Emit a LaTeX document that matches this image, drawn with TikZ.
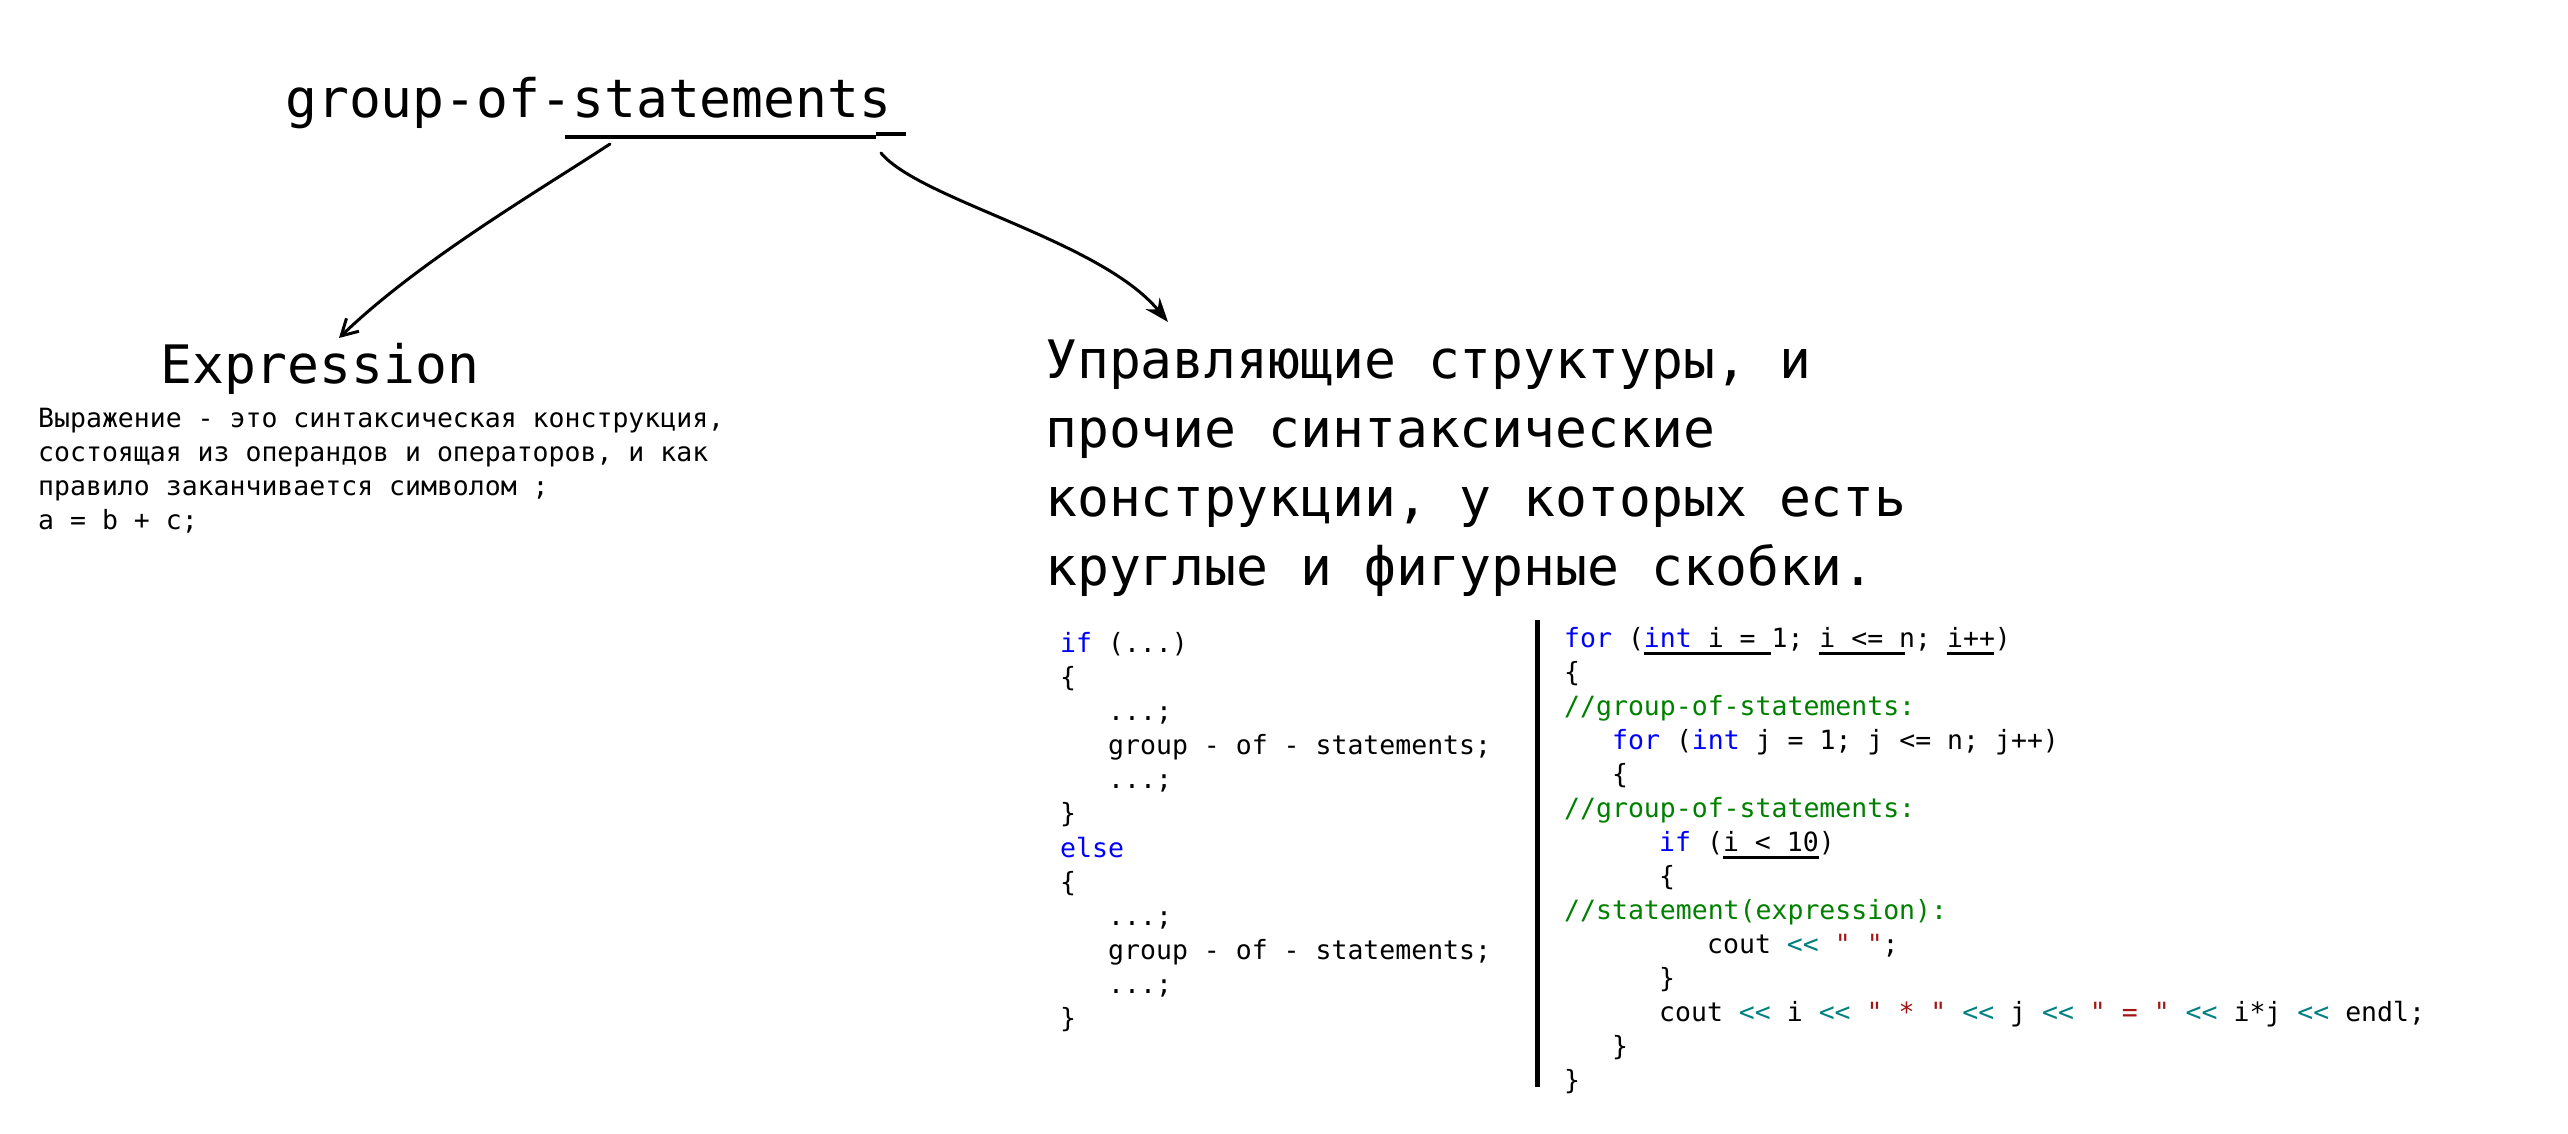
\documentclass[tikz,border=0pt]{standalone}
\usepackage{fontspec}
\setmonofont{DejaVu Sans Mono}
\usetikzlibrary{arrows.meta,positioning}

\definecolor{kwblue}{RGB}{0,0,255}
\definecolor{cmtgreen}{RGB}{0,128,0}
\definecolor{optteal}{RGB}{0,128,128}
\definecolor{strred}{RGB}{163,21,21}

\newcommand{\kw}[1]{\textcolor{kwblue}{#1}}
\newcommand{\cmt}[1]{\textcolor{cmtgreen}{#1}}
\newcommand{\shl}{\textcolor{optteal}{<<}}
\newcommand{\strlit}[1]{\textcolor{strred}{#1}}

\begin{document}
\begin{tikzpicture}[x=1pt,y=-1pt,
  big/.style={font=\ttfamily\fontsize{53}{69}\selectfont,inner sep=0pt,anchor=base west},
  small/.style={font=\ttfamily\fontsize{26.5}{34}\selectfont,inner sep=0pt,anchor=base west},
  arr/.style={line width=3pt,line cap=round},
  uline/.style={line width=3pt}
]
\useasboundingbox (0,0) rectangle (2568,1134);

% headings
\node[big] (gos) at (285,118) {group-of-statements};
\node[big] (expr) at (160,383) {Expression};
\node[big] (ctl1) at (1045,378) {Управляющие структуры, и};
\node[big] (ctl2) at (1045,447) {прочие синтаксические};
\node[big] (ctl3) at (1045,516) {конструкции, у которых есть};
\node[big] (ctl4) at (1045,585) {круглые и фигурные скобки.};

% definition
\node[small] (def1) at (38,427) {Выражение - это синтаксическая конструкция,};
\node[small] (def2) at (38,461) {состоящая из операндов и операторов, и как};
\node[small] (def3) at (38,495) {правило заканчивается символом ;};
\node[small] (def4) at (38,529) {a = b + c;};

% if / else
\node[small] (if1)  at (1060,652)  {\kw{if} (...)};
\node[small] (if2)  at (1060,686)  {\{};
\node[small] (if3)  at (1108,720)  {...;};
\node[small] (if4)  at (1108,754)  {group - of - statements;};
\node[small] (if5)  at (1108,788)  {...;};
\node[small] (if6)  at (1060,822)  {\}};
\node[small] (if7)  at (1060,857)  {\kw{else}};
\node[small] (if8)  at (1060,891)  {\{};
\node[small] (if9)  at (1108,925)  {...;};
\node[small] (if10) at (1108,959)  {group - of - statements;};
\node[small] (if11) at (1108,993)  {...;};
\node[small] (if12) at (1060,1027) {\}};

% nested for
\node[small] (fr1)  at (1564,647)  {\kw{for} (\kw{int} i = 1; i <= n; i++)};
\node[small] (fr2)  at (1564,681)  {\{};
\node[small] (fr3)  at (1564,715)  {\cmt{//group-of-statements:}};
\node[small] (fr4)  at (1612,749)  {\kw{for} (\kw{int} j = 1; j <= n; j++)};
\node[small] (fr5)  at (1612,783)  {\{};
\node[small] (fr6)  at (1564,817)  {\cmt{//group-of-statements:}};
\node[small] (fr7)  at (1659,851)  {\kw{if} (i < 10)};
\node[small] (fr8)  at (1659,885)  {\{};
\node[small] (fr9)  at (1564,919)  {\cmt{//statement(expression):}};
\node[small] (fr10) at (1707,953)  {cout \shl{} \strlit{" "};};
\node[small] (fr11) at (1659,987)  {\}};
\node[small] (fr12) at (1659,1021) {cout \shl{} i \shl{} \strlit{" * "} \shl{} j \shl{} \strlit{" = "} \shl{} i*j \shl{} endl;};
\node[small] (fr13) at (1612,1055) {\}};
\node[small] (fr14) at (1564,1089) {\}};

% underlines and separator
\draw[line width=4pt] (565,137) -- (876,137);
\draw[line width=4pt] (876,134) -- (906,134);
\draw[uline] (1644,653) -- (1771,653);
\draw[uline] (1819,653) -- (1905,653);
\draw[uline] (1947,653) -- (1994,653);
\draw[uline] (1723,857) -- (1819,857);
\draw[line width=5pt] (1537,620) -- (1537,1087);

% arrows
\coordinate (gosL) at (610,144);
\coordinate (gosR) at (881,153);
\coordinate (exprTip) at (339,338);
\coordinate (ctlTip) at (1168,322);
\draw[arr,-{Straight Barb[length=16pt,width=18pt]}] (gosL) .. controls (540,190) and (420,260) .. (exprTip);
\draw[arr,-{Stealth[length=24pt,width=18pt]}] (gosR) .. controls (920,200) and (1100,240) .. (ctlTip);
\end{tikzpicture}
\end{document}
